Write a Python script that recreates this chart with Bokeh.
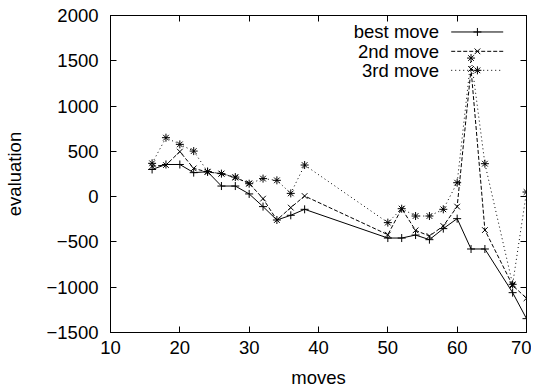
from bokeh.plotting import figure
from bokeh.models import LinearAxis, Range1d, FixedTicker, Label, CustomJSTickFormatter
from bokeh.embed import file_html
from bokeh.resources import INLINE

moves = [16, 18, 20, 22, 24, 26, 28, 30, 32, 34, 36, 38, 50, 52, 54, 56, 58, 60, 62, 64, 68, 70]
best = [300, 355, 355, 265, 275, 117, 117, 30, -110, -258, -206, -140,
        -457, -457, -424, -475, -353, -243, -578, -578, -1060, -1347]
second = [335, 349, 497, 312, 272, 254, 210, 147, -22, -258, -121, 7,
          -420, -133, -372, -435, -324, -110, 1410, -369, -980, -1122]
third = [368, 651, 577, 503, 276, 254, 216, 143, 199, 180, 36, 349,
         -287, -133, -214, -214, -140, 154, 1530, 364, -968, 51]
x_ticks = [10, 20, 30, 40, 50, 60, 70]
y_ticks = [-1500, -1000, -500, 0, 500, 1000, 1500, 2000]
names = ["best move", "2nd move", "3rd move"]

FONT = "Liberation Sans"
FS = "18.5px"

p = figure(output_backend="svg", toolbar_location=None,
           x_range=Range1d(10, 70), y_range=Range1d(-1500, 2000),
           frame_width=416, frame_height=317,
           min_border_left=109, min_border_right=5, min_border_top=15, min_border_bottom=48,
           x_axis_label="moves", y_axis_label="evaluation")
p.xgrid.visible = False
p.ygrid.visible = False
p.outline_line_color = "black"
p.outline_line_width = 1
p.background_fill_color = "white"
p.border_fill_color = "white"

p.xaxis.ticker = FixedTicker(ticks=x_ticks)
p.yaxis.ticker = FixedTicker(ticks=y_ticks)
for ax in (p.xaxis[0], p.yaxis[0]):
    ax.major_tick_in = 6
    ax.major_tick_out = 0
    ax.minor_tick_line_color = None
    ax.axis_line_color = "black"
    ax.major_tick_line_color = "black"
    ax.major_label_text_font = FONT
    ax.major_label_text_font_size = FS
    ax.major_label_text_color = "black"
    ax.axis_label_text_font = FONT
    ax.axis_label_text_font_size = FS
    ax.axis_label_text_font_style = "normal"
    ax.axis_label_text_color = "black"
p.xaxis.major_label_standoff = 8
p.yaxis.major_label_standoff = 12
p.xaxis.axis_label_standoff = 10
p.yaxis.axis_label_standoff = 19

blank = CustomJSTickFormatter(code="return '';")
top = LinearAxis(ticker=FixedTicker(ticks=x_ticks), major_tick_in=6, major_tick_out=0,
                 minor_tick_line_color=None, formatter=blank,
                 major_label_standoff=0, axis_line_color="black")
right = LinearAxis(ticker=FixedTicker(ticks=y_ticks), major_tick_in=6, major_tick_out=0,
                   minor_tick_line_color=None, formatter=blank,
                   major_label_standoff=0, axis_line_color="black")
p.add_layout(top, "above")
p.add_layout(right, "right")

styles = [
    dict(series=best, dash="solid", marker="cross"),
    dict(series=second, dash="4 2", marker="x"),
    dict(series=third, dash="1 3", marker="asterisk"),
]
for s in styles:
    p.line(moves, s["series"], line_color="black", line_width=1, line_dash=s["dash"])
    p.scatter(moves, s["series"], marker=s["marker"], size=8, line_color="black",
              fill_color=None, line_width=1)

# legend (top-right inside the frame), positioned as fractions of the ranges
xr, yr = p.x_range, p.y_range
def fx(f):
    return xr.start + f * (xr.end - xr.start)
def fy(f):
    return yr.start + f * (yr.end - yr.start)
row_fracs = [0.948, 0.887, 0.827]
for s, name, rf in zip(styles, names, row_fracs):
    p.line([fx(0.819), fx(0.944)], [fy(rf), fy(rf)], line_color="black",
           line_width=1, line_dash=s["dash"])
    p.scatter([fx(0.882)], [fy(rf)], marker=s["marker"], size=8, line_color="black",
              fill_color=None, line_width=1)
    p.add_layout(Label(x=fx(0.79), y=fy(rf), text=name, text_align="right",
                       text_baseline="middle", text_font=FONT, text_font_size=FS,
                       text_color="black"))

open("out.html", "w").write(file_html(p, INLINE))
